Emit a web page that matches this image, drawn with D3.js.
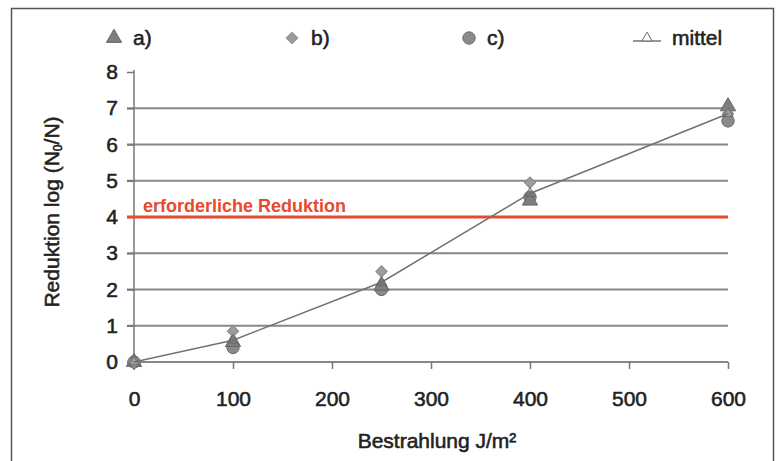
<!DOCTYPE html>
<meta charset="utf-8">
<script src="https://d3js.org/d3.v7.min.js"></script>
<style>
  body { margin: 0; background: #fff; }
  text { font-family: "Liberation Sans", Arial, sans-serif; }
  .heavy { stroke: #222; stroke-width: 0.55px; }
</style>
<div id="chart"></div>
<script>

// data
var dose   = [0, 100, 250, 400, 600];
var seriesA = [0, 0.55, 2.1, 4.45, 7.05];
var seriesB = [0, 0.85, 2.5, 4.95, 6.85];
var seriesC = [0, 0.4, 2.0, 4.55, 6.65];
var mittel  = [0, 0.6, 2.2, 4.65, 6.85];
var xTicks = [0, 100, 200, 300, 400, 500, 600];
var yTicks = [0, 1, 2, 3, 4, 5, 6, 7, 8];
var required = 4;

var W = 778, H = 461;
var svg = d3.select("#chart").append("svg")
  .attr("width", W).attr("height", H);

// outer frame
svg.append("rect")
  .attr("x", 11.5).attr("y", 8.5)
  .attr("width", 762).attr("height", 470)
  .attr("fill", "white").attr("stroke", "#555").attr("stroke-width", 1.5);

var x = d3.scaleLinear().domain([0, 600]).range([134, 728]);
var y = d3.scaleLinear().domain([0, 8]).range([362, 72]);

// gridlines
svg.append("g").selectAll("line")
  .data(yTicks.filter(function(d) { return d > 0 && d < 8; }))
  .join("line")
    .attr("x1", 127).attr("x2", x(600))
    .attr("y1", function(d) { return y(d); })
    .attr("y2", function(d) { return y(d); })
    .attr("stroke", "#8a8686").attr("stroke-width", 2);

// y axis
var yAxis = svg.append("g")
  .attr("transform", "translate(" + x(0) + ",0)")
  .call(d3.axisLeft(y).tickValues(yTicks).tickSize(7).tickPadding(9));
yAxis.select(".domain").attr("stroke", "#777").attr("stroke-width", 1.5)
  .attr("d", "M0," + (y(8) - 2) + "V" + (y(0) + 8));
yAxis.selectAll(".tick line").attr("stroke", "#777").attr("stroke-width", 1.5);
yAxis.selectAll(".tick text").attr("font-size", 21).attr("fill", "#222")
  .attr("class", "heavy").attr("font-family", "Liberation Sans, Arial, sans-serif");

// x axis
var xAxis = svg.append("g")
  .attr("transform", "translate(0," + y(0) + ")")
  .call(d3.axisBottom(x).tickValues(xTicks).tickSize(7).tickPadding(22));
xAxis.select(".domain").attr("stroke", "#8a8686").attr("stroke-width", 2)
  .attr("d", "M127,0H" + x(600));
xAxis.selectAll(".tick line").attr("stroke", "#777").attr("stroke-width", 1.5);
xAxis.selectAll(".tick text").attr("font-size", 21).attr("fill", "#222")
  .attr("class", "heavy").attr("font-family", "Liberation Sans, Arial, sans-serif");

// required reduction line
svg.append("line")
  .attr("x1", 127).attr("x2", x(600))
  .attr("y1", y(required)).attr("y2", y(required))
  .attr("stroke", "#e84a2f").attr("stroke-width", 3);
svg.append("text")
  .attr("x", 143).attr("y", y(required) - 5)
  .attr("font-size", 18).attr("font-weight", "bold")
  .attr("fill", "#e84a2f")
  .text("erforderliche Reduktion");

// markers
var tri = d3.symbol().type(d3.symbolTriangle).size(100);
var dia = d3.symbol().type(d3.symbolSquare).size(64);
var circ = d3.symbol().type(d3.symbolCircle).size(120);

function pts(vals) {
  return dose.map(function(d, i) { return [d, vals[i]]; });
}

svg.append("g").selectAll("path")
  .data(pts(seriesC)).join("path")
    .attr("d", circ)
    .attr("transform", function(d) { return "translate(" + x(d[0]) + "," + y(d[1]) + ")"; })
    .attr("fill", "#8a8a8a").attr("stroke", "#666");

svg.append("g").selectAll("path")
  .data(pts(seriesA)).join("path")
    .attr("d", tri)
    .attr("transform", function(d) { return "translate(" + x(d[0]) + "," + y(d[1]) + ")"; })
    .attr("fill", "#7e7e7e").attr("stroke", "#666");

svg.append("g").selectAll("path")
  .data(pts(seriesB)).join("path")
    .attr("d", dia)
    .attr("transform", function(d) { return "translate(" + x(d[0]) + "," + y(d[1]) + ") rotate(45)"; })
    .attr("fill", "#9c9c9c").attr("stroke", "#888");

// mean line
svg.append("path")
  .datum(pts(mittel))
  .attr("fill", "none").attr("stroke", "#7a6e6e").attr("stroke-width", 1.5)
  .attr("d", d3.line().x(function(d) { return x(d[0]); }).y(function(d) { return y(d[1]); }));

svg.append("g").selectAll("path")
  .data(pts(mittel)).join("path")
    .attr("d", d3.symbol().type(d3.symbolTriangle).size(45))
    .attr("transform", function(d) { return "translate(" + x(d[0]) + "," + y(d[1]) + ")"; })
    .attr("fill", "none").attr("stroke", "#6e6666").attr("stroke-width", 1);

// legend
var ly = 38;
svg.append("path").attr("d", tri).attr("transform", "translate(114," + ly + ")")
  .attr("fill", "#7e7e7e").attr("stroke", "#666");
svg.append("text").attr("x", 133).attr("y", ly + 7).attr("font-size", 21).attr("fill", "#222")
  .attr("class", "heavy").text("a)");

svg.append("path").attr("d", dia).attr("transform", "translate(292," + ly + ") rotate(45)")
  .attr("fill", "#9c9c9c").attr("stroke", "#888");
svg.append("text").attr("x", 311).attr("y", ly + 7).attr("font-size", 21).attr("fill", "#222")
  .attr("class", "heavy").text("b)");

svg.append("path").attr("d", circ)
  .attr("transform", "translate(469," + ly + ")")
  .attr("fill", "#8a8a8a").attr("stroke", "#666");
svg.append("text").attr("x", 487).attr("y", ly + 7).attr("font-size", 21).attr("fill", "#222")
  .attr("class", "heavy").text("c)");

svg.append("line").attr("x1", 633).attr("x2", 661).attr("y1", ly + 3).attr("y2", ly + 3)
  .attr("stroke", "#7a6e6e").attr("stroke-width", 1.5);
svg.append("path").attr("d", d3.symbol().type(d3.symbolTriangle).size(45))
  .attr("transform", "translate(647," + ly + ")")
  .attr("fill", "white").attr("stroke", "#6e6666");
svg.append("text").attr("x", 672).attr("y", ly + 7).attr("font-size", 21).attr("fill", "#222")
  .attr("class", "heavy").text("mittel");

// axis titles
svg.append("text")
  .attr("x", 437).attr("y", 448)
  .attr("text-anchor", "middle").attr("font-size", 21).attr("fill", "#222")
  .attr("class", "heavy")
  .text("Bestrahlung J/m²");

var yt = svg.append("text")
  .attr("transform", "translate(59,212) rotate(-90)")
  .attr("text-anchor", "middle").attr("font-size", 21).attr("fill", "#222")
  .attr("class", "heavy");
yt.append("tspan").text("Reduktion log (N");
yt.append("tspan").attr("font-size", 12).attr("dy", 3).text("0");
yt.append("tspan").attr("dy", -3).text("/N)");

</script>
